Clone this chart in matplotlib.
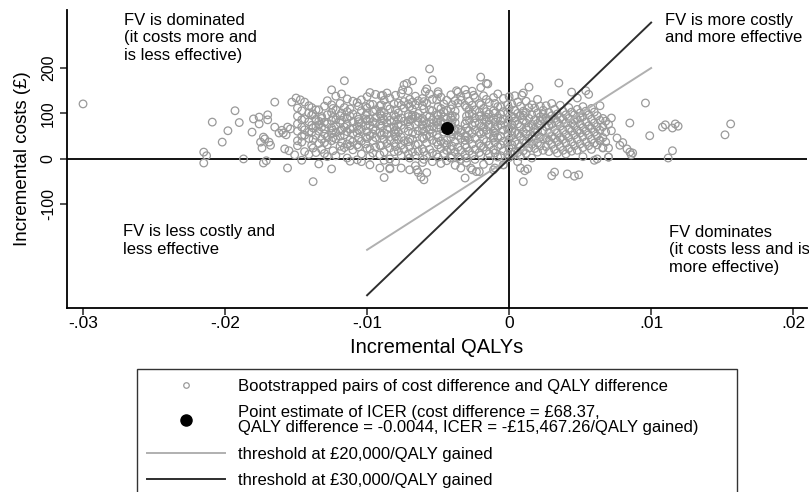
import numpy as np
import matplotlib.pyplot as plt
from matplotlib.lines import Line2D

plt.switch_backend("Agg")
plt.rcParams["font.family"] = ["Liberation Sans", "DejaVu Sans"]

# outlying bootstrap pairs (QALY diff in 1e-4 units, cost diff in GBP)
out_qaly = [-300, -215, -213, -215, -209, -202, -198, -193, -190, -187, -181, -180,
            -176, -175, -174, -173, -173, -171, -170, -170, -169, -165, -165, -162,
            -159, -158, -156, -156, -155, -153, -151, -150, -147, -160, -157, -154,
            -176, -172, -168, -75, -72, -59, -50, -89, -15, -37, -25, 9,
            85, 99, 108, 110, 115, 117, 119, 115, 112, 85, 86, 87,
            80, 78, 76, 83, 70, 70, 152, 156, 96, 72, 66, 62,
            10, 30, 32, 41, 46, 49, 11, 13, -23, -27, -58, -62,
            -65, -84, -4, -11, 60, 64]
out_cost = [121, 15, 7, -9, 81, 37, 62, 106, 80, 0, 59, 88,
            92, 37, 24, 48, -9, -4, 97, 86, 37, 125, 70, 57,
            57, 22, -20, 70, 18, 125, 9, 134, 130, 63, 53, 66,
            77, 44, 30, 152, 166, 148, 143, 140, 165, 150, 140, 140,
            79, 51, 70, 75, 68, 77, 72, 18, 2, 15, 9, 13,
            36, 30, 46, 22, 4, 24, 53, 77, 123, 90, 24, 0,
            -50, -37, -29, -33, -38, -35, -26, -22, -28, -20, -30, -40,
            -24, -20, -13, -24, -3, 40]

# dense part of the cloud, read column by column
cloud_qaly = [-149, -146, -144, -141, -139, -138, -136, -134, -132, -130, -128, -125,
              -124, -122, -119, -118, -116, -114, -112, -110, -107, -106, -104, -101,
              -100, -98, -96, -94, -91, -90, -88, -86, -84, -81, -80, -78,
              -76, -74, -71, -70, -68, -66, -64, -61, -60, -58, -56, -54,
              -51, -50, -48, -46, -44, -41, -40, -38, -36, -34, -31, -30,
              -28, -26, -24, -21, -20, -18, -16, -14, -11, -10, -8, -6,
              -4, -1, 0, 2, 4, 6, 8, 10, 12, 14, 16, 18,
              20, 22, 24, 26, 28, 30, 32, 34, 35, 36, 38, 40,
              42, 44, 46, 48, 50, 52, 54, 56, 58, 60, 62, 64,
              66, 68, 70, 72]
cloud_costs = [
    [94, 77, 61, 40, 29, 112], [106, 70, 50, 37, 86, -3], [125, 88, 64, 52, 16],
    [82, 59, 45, 101, 10, 117], [113, 74, 58, 30, 96], [99, 68, 43, 24, -50],
    [87, 71, 52, 14, 108], [108, 83, 61, 34, -11, 75], [93, 70, 44, 21, 89],
    [116, 81, 66, 36, 12, 55], [128, 97, 77, 48, 31, 5], [119, 102, 84, 56, 40, 152, -22, 68],
    [111, 91, 63, 47, 18], [138, 108, 86, 58, 44, 7, 73], [122, 95, 79, 50, 28, 62],
    [143, 101, 85, 64, 36, 19], [113, 92, 70, 53, 25, 172], [132, 104, 76, 60, 33, 2, 89],
    [110, 94, 66, 42, 29, -5], [127, 99, 81, 67, 38, 20, 55], [124, 93, 72, 57, 31, -2],
    [116, 87, 64, 46, 26, 82], [130, 106, 78, 65, 39, 11, -6], [115, 96, 73, 48, 33, 88],
    [137, 112, 84, 60, 45, 23, 101], [146, 120, 88, 74, 51, 22, 6, -13], [120, 104, 82, 55, 40, 13, 66],
    [142, 108, 91, 63, 47, 26, 78], [117, 99, 76, 58, 30, 9, -20], [139, 119, 95, 72, 52, 29, 84, 105],
    [129, 102, 86, 57, 43, 15, -3, -41], [145, 116, 92, 79, 54, 34, 65], [134, 110, 85, 68, 42, 24, 0, -22],
    [121, 97, 84, 60, 35, 16, 70], [140, 108, 93, 64, 49, 27, 56, -6], [123, 101, 87, 59, 42, 17, 76],
    [144, 118, 90, 74, 48, 30, 8, -20], [163, 126, 112, 83, 67, 40, 21], [150, 121, 98, 82, 61, 38, 11, 93],
    [131, 115, 86, 72, 44, 27, 2, -24], [172, 125, 109, 88, 58, 43, 15, 96], [138, 119, 94, 76, 55, 31, 7, -15],
    [128, 100, 82, 62, 33, 17, 91, -30], [133, 117, 89, 74, 47, 22, 66, -8], [126, 110, 84, 61, 45, 16, -1, -46],
    [154, 123, 95, 79, 51, 35, 8, 69], [198, 143, 108, 93, 64, 49, 21, 80], [174, 131, 106, 86, 57, 41, 13, 71, -6],
    [130, 97, 81, 53, 37, 10, 68], [148, 115, 96, 75, 47, 31, 4, 87], [136, 111, 83, 67, 39, 23, 99, -10],
    [121, 103, 78, 59, 34, 12, 92], [129, 107, 88, 41, 19, -4, 30], [141, 110, 90, 59, 47, 21, 2, 77],
    [119, 95, 71, 55, 28, 6, 85], [128, 105, 80, 63, 38, 15, 93, -14], [147, 66, 51, 26, 4, 123],
    [137, 63, 45, 19, -1, 58, 129, -20], [152, 77, 50, 31, 10, 41, 118, -42], [142, 113, 94, 68, 49, 25, 2, 84, -8],
    [127, 109, 85, 62, 43, 17, 98], [149, 118, 99, 74, 56, 33, 9, -24], [135, 108, 90, 64, 45, 21, -1, 79],
    [122, 103, 78, 59, 34, 14, 94, -28], [180, 157, 119, 95, 71, 55, 28, 8], [139, 111, 87, 70, 43, 26, 60, -12],
    [166, 131, 104, 82, 63, 38, 18, 92], [124, 99, 74, 55, 30, 11, 86, -4], [135, 106, 89, 61, 46, 20, 50],
    [122, 101, 81, 57, 37, 13, 69, -20], [143, 115, 90, 72, 47, 27, 4], [115, 98, 75, 50, 31, 7, 84],
    [133, 104, 87, 63, 39, 18, -13], [119, 102, 79, 54, 35, 11, 66], [137, 111, 86, 67, 43, 23, 3],
    [120, 94, 75, 51, 31, 10, 62], [139, 107, 83, 58, 38, 15, 90], [125, 100, 77, 56, 33, 14, -6],
    [116, 95, 71, 50, 27, 6, -20], [145, 105, 85, 60, 41, 18, 96], [127, 102, 79, 55, 35, 12, 67],
    [158, 113, 89, 70, 45, 24], [119, 97, 76, 49, 32, 2], [112, 86, 67, 43, 23, 58],
    [131, 101, 78, 60, 35, 15], [116, 93, 74, 48, 29, 84], [107, 87, 62, 44, 19, 98],
    [117, 90, 71, 46, 27], [102, 84, 58, 40, 16, 73], [122, 95, 76, 50, 32],
    [109, 89, 64, 45, 21], [99, 81, 57, 38, 13], [167], [118, 91, 72, 47, 27],
    [105, 87, 63, 43, 19], [97, 79, 54, 35, 11], [113, 89, 67, 47, 23],
    [147, 103, 79, 61, 37, 17], [97, 73, 53, 29, 85], [134, 109, 87, 63, 43, 19],
    [101, 77, 57, 33, 91], [115, 93, 69, 49, 25, 5], [150, 105, 81, 61, 37],
    [142, 97, 73, 53, 29], [111, 87, 67, 43, 21], [103, 79, 59, 35], [95, 71, 51, 31],
    [117, 85, 63, 41], [89, 71, 47, 25], [83, 59, 37], [4, 76], [62],
]

# point estimate and thresholds
est_qaly = -0.0044
est_cost = 68.37
wtp = [20000, 30000]
wtp_ends = [-0.01, 0.01]

boot_x = list(out_qaly)
boot_y = list(out_cost)
for q, costs in zip(cloud_qaly, cloud_costs):
    boot_x += [q] * len(costs)
    boot_y += costs
boot_x = np.array(boot_x) / 1e4
boot_y = np.array(boot_y)

fig = plt.figure(figsize=(8.09, 4.92), dpi=100)
ax = fig.add_axes([0.0828, 0.374, 0.915, 0.606])

ax.axhline(0, color="black", lw=1.3, zorder=1)
ax.axvline(0, color="black", lw=1.3, zorder=1)

ax.scatter(boot_x, boot_y, s=30, facecolors="none", edgecolors="#9a9a9a",
           linewidths=0.9, zorder=2)
ax.plot(wtp_ends, [wtp[0] * e for e in wtp_ends], color="#b0b0b0", lw=1.4, zorder=3)
ax.plot(wtp_ends, [wtp[1] * e for e in wtp_ends], color="#2e2e2e", lw=1.4, zorder=3)
ax.scatter([est_qaly], [est_cost], s=70, color="black", zorder=4)

ax.set_xlim(-0.03113, 0.02099)
ax.set_ylim(-328, 328)
ax.set_xticks([-0.03, -0.02, -0.01, 0, 0.01, 0.02])
ax.set_xticklabels(["-.03", "-.02", "-.01", "0", ".01", ".02"])
ax.set_yticks([-100, 0, 100, 200])
ax.set_yticklabels(["-100", "0", "100", "200"])
for s in ["top", "right"]:
    ax.spines[s].set_visible(False)
for s in ["left", "bottom"]:
    ax.spines[s].set_linewidth(1.3)
ax.tick_params(axis="both", length=5, width=1.1, color="#222222")
ax.tick_params(axis="x", labelsize=12.5, pad=1)
ax.tick_params(axis="y", labelsize=11.5, labelrotation=90, pad=3)
for lab in ax.get_yticklabels():
    lab.set_va("center")

ax.set_xlabel("Incremental QALYs", fontsize=14.5)
ax.set_ylabel("Incremental costs (£)", fontsize=13.5)
ax.xaxis.set_label_coords(0.5, -0.10)
ax.yaxis.set_label_coords(-0.049, 0.5)

tkw = dict(fontsize=12, va="top", ha="left", linespacing=1.22)
ax.text(-0.0271, 322, "FV is dominated\n(it costs more and\nis less effective)", **tkw)
ax.text(-0.0272, -143, "FV is less costly and\nless effective", **tkw)
ax.text(0.0110, 322, "FV is more costly\nand more effective", **tkw)
ax.text(0.01127, -145, "FV dominates\n(it costs less and is\nmore effective)", **tkw)

handles = [
    Line2D([], [], ls="", marker="o", mfc="none", mec="#9a9a9a", ms=4, mew=0.9),
    Line2D([], [], ls="", marker="o", color="black", ms=8),
    Line2D([], [], color="#b0b0b0", lw=1.4),
    Line2D([], [], color="#2e2e2e", lw=1.4),
]
labels = [
    "Bootstrapped pairs of cost difference and QALY difference",
    "Point estimate of ICER (cost difference = £68.37,\nQALY difference = -0.0044, ICER = -£15,467.26/QALY gained)",
    "threshold at £20,000/QALY gained",
    "threshold at £30,000/QALY gained",
]
leg = fig.legend(handles, labels, loc="upper left",
                 bbox_to_anchor=(137 / 809, 1 - 369 / 492, 600 / 809, 0.001),
                 mode="expand", fontsize=12, frameon=True, fancybox=False,
                 edgecolor="black", handlelength=4.7, handletextpad=0.78,
                 labelspacing=0.68, borderpad=0.6, borderaxespad=0)
leg.get_frame().set_linewidth(1.0)
for t in leg.get_texts():
    t.set_linespacing(1.05)

fig.savefig("out.png", dpi=100)
